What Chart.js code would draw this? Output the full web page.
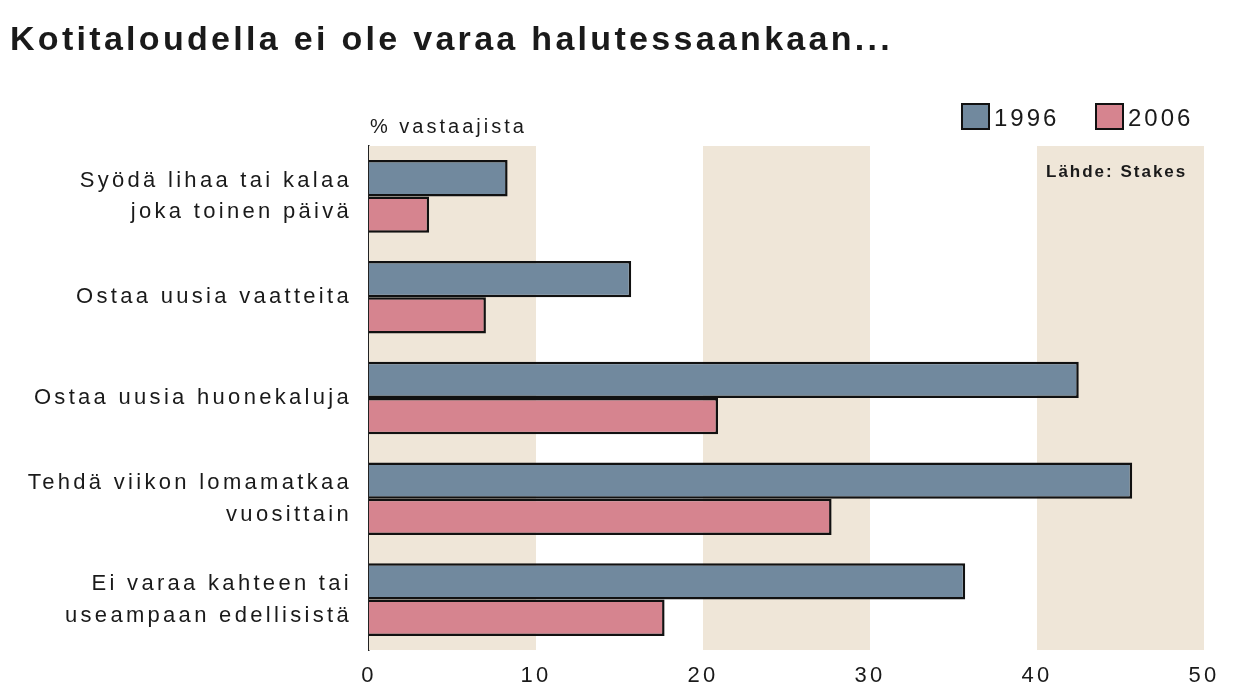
<!DOCTYPE html>
<html><head><meta charset="utf-8">
<script src="https://cdn.jsdelivr.net/npm/chart.js@4.4.1/dist/chart.umd.min.js"></script>
<style>html,body{margin:0;padding:0;background:#fff}#wrap{width:1240px;height:691px}</style>
</head><body><div id="wrap"><canvas id="c" width="1240" height="691"></canvas></div>
<script>
const categories = [
  ["Syödä lihaa tai kalaa", "joka toinen päivä"],
  ["Ostaa uusia vaatteita"],
  ["Ostaa uusia huonekaluja"],
  ["Tehdä viikon lomamatkaa", "vuosittain"],
  ["Ei varaa kahteen tai", "useampaan edellisistä"]
];
const values1996 = [8.3, 15.7, 42.5, 45.7, 35.7];
const values2006 = [3.6, 7.0, 20.9, 27.7, 17.7];
const seriesLabels = ["1996", "2006"];
const xTicks = [0, 10, 20, 30, 40, 50];
const bandRanges = [[0, 10], [20, 30], [40, 50]];
const titleText = "Kotitaloudella ei ole varaa halutessaankaan...";
const unitText = "% vastaajista";
const sourceText = "Lähde: Stakes";

const colors = ["#71899e", "#d6848f"];
const FONT = '"Liberation Sans", Arial, sans-serif';

const decor = {
  id: 'decor',
  beforeDraw(chart) {
    chart.ctx.letterSpacing = '3.3px';
  },
  beforeDatasetsDraw(chart) {
    const {ctx, chartArea, scales} = chart;
    ctx.save();
    ctx.fillStyle = '#efe6d8';
    bandRanges.forEach(([a, b]) => {
      const x1 = scales.x.getPixelForValue(a), x2 = scales.x.getPixelForValue(b);
      ctx.fillRect(x1, chartArea.top, x2 - x1, chartArea.bottom - chartArea.top);
    });
    ctx.restore();
  },
  afterDraw(chart) {
    const {ctx, chartArea} = chart;
    ctx.save();
    ctx.fillStyle = '#1a1a1a';
    ctx.textBaseline = 'alphabetic';
    ctx.textAlign = 'left';
    ctx.letterSpacing = '3.3px';
    ctx.font = 'bold 34px ' + FONT;
    ctx.fillText(titleText, 10, 50);
    ctx.letterSpacing = '3px';
    ctx.font = '20px ' + FONT;
    ctx.fillText(unitText, chartArea.left + 1, 133);
    ctx.letterSpacing = '2px';
    ctx.font = 'bold 17px ' + FONT;
    ctx.fillText(sourceText, 1046, 177);
    // legend
    ctx.letterSpacing = '3px';
    ctx.font = '24px ' + FONT;
    const legendX = [962, 1096];
    chart.data.datasets.forEach((ds, i) => {
      const x = legendX[i];
      ctx.fillStyle = ds.backgroundColor;
      ctx.fillRect(x, 104, 27, 25);
      ctx.strokeStyle = '#111';
      ctx.lineWidth = 2;
      ctx.strokeRect(x, 104, 27, 25);
      ctx.fillStyle = '#1a1a1a';
      ctx.fillText(ds.label, x + 32, 126);
    });
    ctx.restore();
  }
};

new Chart(document.getElementById('c'), {
  type: 'bar',
  data: {
    labels: categories,
    datasets: [
      {label: seriesLabels[0], data: values1996, backgroundColor: colors[0], borderColor: '#111', borderWidth: 2.5, borderSkipped: 'start'},
      {label: seriesLabels[1], data: values2006, backgroundColor: colors[1], borderColor: '#111', borderWidth: 2.5, borderSkipped: 'start'}
    ]
  },
  options: {
    indexAxis: 'y',
    responsive: false,
    animation: false,
    devicePixelRatio: 1,
    layout: {padding: {left: 0, right: 36, top: 146, bottom: 0}},
    datasets: {bar: {categoryPercentage: 0.72, barPercentage: 1.0}},
    plugins: {legend: {display: false}, title: {display: false}, tooltip: {enabled: false}},
    scales: {
      x: {
        min: 0, max: 50,
        afterBuildTicks(scale) { scale.ticks = xTicks.map(v => ({value: v})); },
        afterFit(scale) { scale.height = 41; scale.paddingLeft = 0; scale.paddingRight = 0; },
        grid: {display: false, drawTicks: false},
        border: {display: false},
        ticks: {font: {size: 22, family: FONT}, color: '#1a1a1a', padding: 13}
      },
      y: {
        afterFit(scale) { scale.width = 369; scale.paddingTop = 0; scale.paddingBottom = 0; },
        grid: {display: false, drawTicks: false},
        border: {display: true, color: '#222', width: 1.5},
        ticks: {font: {size: 22, family: FONT, lineHeight: 1.45}, color: '#1a1a1a', padding: 17}
      }
    }
  },
  plugins: [decor]
});
</script></body></html>
